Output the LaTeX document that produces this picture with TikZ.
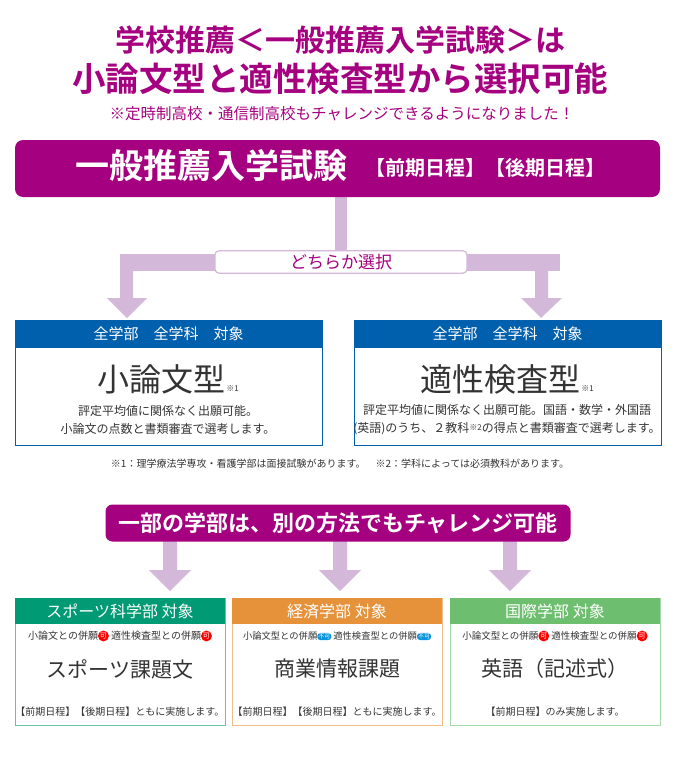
\documentclass[tikz,border=0pt]{standalone}
\usepackage{fontspec}
\setmainfont{Noto Sans CJK JP}
\newfontfamily\jpb{Noto Sans CJK JP Bold}
\definecolor{mag}{HTML}{A5007F}
\definecolor{lav}{HTML}{D3B8DA}
\definecolor{hblue}{HTML}{0060AD}
\definecolor{gA}{HTML}{009A74}
\definecolor{oB}{HTML}{E5923A}
\definecolor{gC}{HTML}{6DBE6E}
\definecolor{txt}{HTML}{333333}
\newcommand{\fs}[1]{\fontsize{#1}{#1}\selectfont}
\newcommand{\ka}{\tikz[baseline=-3pt]\node[circle,fill=red,inner sep=0.6pt,text=white]{\fs{7}可};}
\newcommand{\fuka}{\tikz[baseline=-3pt]\node[rounded corners=3pt,fill=cyan!80!blue,inner sep=1pt,text=white]{\fs{6}不可};}
\begin{document}
\begin{tikzpicture}[x=1pt,y=-1pt,
  lbl/.style={text=txt}]
\useasboundingbox (0,0) rectangle (680,760);
% titles
\node[text=mag] (t1) at (340,40) {\jpb\fs{30}学校推薦＜一般推薦入学試験＞は};
\node[text=mag] (t2) at (340,79) {\jpb\fs{33.5}小論文型と適性検査型から選択可能};
\node[text=mag] (t3) at (342,114) {\fs{15.5}※定時制高校・通信制高校もチャレンジできるようになりました！};
% connectors
\fill[lav] (335,196) rectangle (347,254);
\fill[lav] (120,254) rectangle (560,271);
\fill[lav] (120,254) rectangle (133,298) (107,298) -- (147,298) -- (127,318) -- cycle;
\fill[lav] (535,254) rectangle (548,298) (521,298) -- (562,298) -- (541,318) -- cycle;
% main banner
\node[fill=mag,rounded corners=8pt,minimum width=645pt,minimum height=57pt,inner sep=0] (mb) at (337.5,168.5) {};
\node[text=white,anchor=west] (mbt) at (72,166) {\jpb\fs{34}一般推薦入学試験};
\node[text=white,anchor=west] (mbs) at (362,168) {\jpb\fs{20}【前期日程】【後期日程】};
\node[draw=lav,line width=1.2pt,fill=white,rounded corners=4pt,minimum width=252pt,minimum height=22pt,text=mag] (sel) at (341,262) {\fs{17}どちらか選択};
% two boxes
\foreach \x/\n in {15/L,354/R}{
  \draw[hblue,line width=0.8pt] (\x,320) rectangle (\x+307,445);
  \fill[hblue] (\x,320) rectangle (\x+307,348);
  \node[text=white] (h\n) at (\x+153.5,334) {\fs{15}全学部\quad 全学科\quad 対象};
}
\node[lbl] (bL) at (168,379) {\fs{32}小論文型\raisebox{0pt}{\fs{8}\,※1}};
\node[lbl] (bR) at (507,379) {\fs{32}適性検査型\raisebox{0pt}{\fs{8}\,※1}};
\node[lbl,align=center] (dL) at (168,420) {\fs{12}評定平均値に関係なく出願可能。\\[6pt]\fs{12}小論文の点数と書類審査で選考します。};
\node[lbl,align=center] (dR) at (507,420) {\fs{12}評定平均値に関係なく出願可能。国語・数学・外国語\\[6pt]\fs{12}(英語)のうち、２教科\raisebox{2pt}{\fs{8}※2}の得点と書類審査で選考します。};
\node[lbl] (fn) at (340,464) {\fs{10}※1：理学療法学専攻・看護学部は面接試験があります。\quad ※2：学科によっては必須教科があります。};
% second banner and arrows
\foreach \cx in {170,340,510}{
  \fill[lav] (\cx-7,540) rectangle (\cx+7,570) (\cx-21,570) -- (\cx+21,570) -- (\cx,591) -- cycle;
}
\node[fill=mag,rounded corners=7pt,minimum width=465pt,minimum height=37pt,inner sep=0,text=white] (b2) at (338,523) {\jpb\fs{22}一部の学部は、別の方法でもチャレンジ可能};
% bottom boxes
\foreach \x/\c/\n/\h in {15/gA/A/スポーツ科学部 対象,232/oB/B/経済学部 対象,450/gC/C/国際学部 対象}{
  \draw[\c!60,line width=0.8pt] (\x,598) rectangle (\x+210,725);
  \fill[\c] (\x,598) rectangle (\x+210,624);
  \node[text=white] (h\n) at (\x+105,611) {\fs{16}\h};
}
\node[lbl] (sA) at (120,636) {\fs{10}小論文との併願\ka\ 適性検査型との併願\ka};
\node[lbl] (sB) at (337,636) {\fs{9.3}小論文型との併願\fuka\ 適性検査型との併願\fuka};
\node[lbl] (sC) at (555,636) {\fs{9.5}小論文型との併願\ka\ 適性検査型との併願\ka};
\node[lbl] (mA) at (120,669) {\fs{21}スポーツ課題文};
\node[lbl] (mB) at (337,669) {\fs{21}商業情報課題};
\node[lbl] (mC) at (555,669) {\fs{21}英語（記述式）};
\node[lbl] (eA) at (120,712) {\fs{10}【前期日程】【後期日程】ともに実施します。};
\node[lbl] (eB) at (337,712) {\fs{10}【前期日程】【後期日程】ともに実施します。};
\node[lbl] (eC) at (555,712) {\fs{10}【前期日程】のみ実施します。};
\end{tikzpicture}
\end{document}
